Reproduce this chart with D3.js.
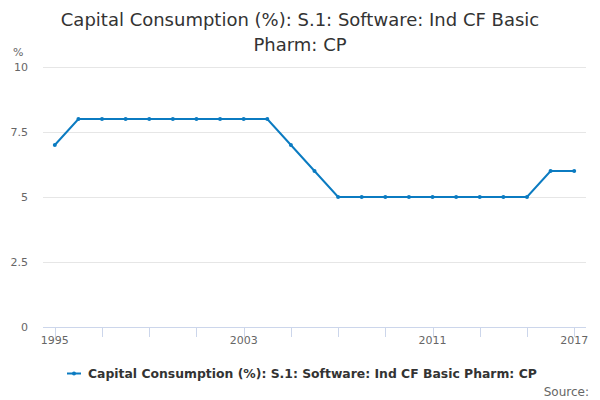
<!DOCTYPE html>
<html><head><meta charset="utf-8">
<script src="https://cdn.jsdelivr.net/npm/d3@7"></script>
<style>body{margin:0;background:#fff;font-family:"DejaVu Sans",sans-serif;}</style>
</head><body><svg id="c" width="600" height="400"></svg>
<script>
const years = [1995,1996,1997,1998,1999,2000,2001,2002,2003,2004,2005,2006,2007,2008,2009,2010,2011,2012,2013,2014,2015,2016,2017];
const values = [7,8,8,8,8,8,8,8,8,8,7,6,5,5,5,5,5,5,5,5,5,6,6];
const yTicks = [0,2.5,5,7.5,10];
const xTickLabels = [1995,2003,2011,2017];
const xTickMarks = [1995,1997,1999,2001,2003,2005,2007,2009,2011,2013,2015,2017];
const titleLines = ["Capital Consumption (%): S.1: Software: Ind CF Basic","Pharm: CP"];
const seriesName = "Capital Consumption (%): S.1: Software: Ind CF Basic Pharm: CP";

const svg = d3.select("#c");
const color = "#0b7bc1";
const L = 43, R = 586, T = 67, B = 327;
const x = d3.scaleLinear().domain([1994.5,2017.5]).range([L,R]);
const y = d3.scaleLinear().domain([0,10]).range([B,T]);

svg.selectAll("text.title").data(titleLines).enter().append("text")
  .attr("x",300).attr("y",(d,i)=>26+i*25).attr("text-anchor","middle")
  .attr("font-size",18).attr("fill","#333").text(d=>d);

// grid
svg.append("g").selectAll("line").data(yTicks.filter(d=>d>0)).enter().append("line")
  .attr("x1",L).attr("x2",R).attr("y1",d=>y(d)+0.5).attr("y2",d=>y(d)+0.5)
  .attr("stroke","#e6e6e6").attr("stroke-width",1);
svg.append("g").selectAll("text").data(yTicks).enter().append("text")
  .attr("x",28).attr("y",d=>y(d)+4).attr("text-anchor","end")
  .attr("font-size",11).attr("fill","#666").text(d=>d);
svg.append("text").attr("x",13).attr("y",56).attr("font-size",11).attr("fill","#666").text("%");

// x axis
svg.append("line").attr("x1",L).attr("x2",R).attr("y1",B+0.5).attr("y2",B+0.5).attr("stroke","#ccd6eb");
svg.append("g").selectAll("line").data(xTickMarks).enter().append("line")
  .attr("x1",d=>Math.round(x(d))+0.5).attr("x2",d=>Math.round(x(d))+0.5)
  .attr("y1",B).attr("y2",B+10).attr("stroke","#ccd6eb");
svg.append("g").selectAll("text").data(xTickLabels).enter().append("text")
  .attr("x",d=>x(d)).attr("y",B+17).attr("text-anchor","middle")
  .attr("font-size",11).attr("fill","#666").text(d=>d);

// line
const pts = years.map((yr,i)=>[yr,values[i]]);
svg.append("path").datum(pts)
  .attr("d",d3.line().x(d=>x(d[0])).y(d=>y(d[1])))
  .attr("fill","none").attr("stroke",color).attr("stroke-width",2);
svg.append("g").selectAll("circle").data(pts).enter().append("circle")
  .attr("cx",d=>x(d[0])).attr("cy",d=>y(d[1])).attr("r",2).attr("fill",color);

// legend
const lg = svg.append("g");
lg.append("line").attr("x1",67).attr("x2",81).attr("y1",373.5).attr("y2",373.5).attr("stroke",color).attr("stroke-width",2);
lg.append("circle").attr("cx",74).attr("cy",373.5).attr("r",2).attr("fill",color);
lg.append("text").attr("x",88).attr("y",378).attr("font-size",12.4).attr("font-weight","bold").attr("fill","#333").text(seriesName);

svg.append("text").attr("x",589).attr("y",396).attr("text-anchor","end").attr("font-size",12).attr("fill","#666").text("Source:");
</script></body></html>
